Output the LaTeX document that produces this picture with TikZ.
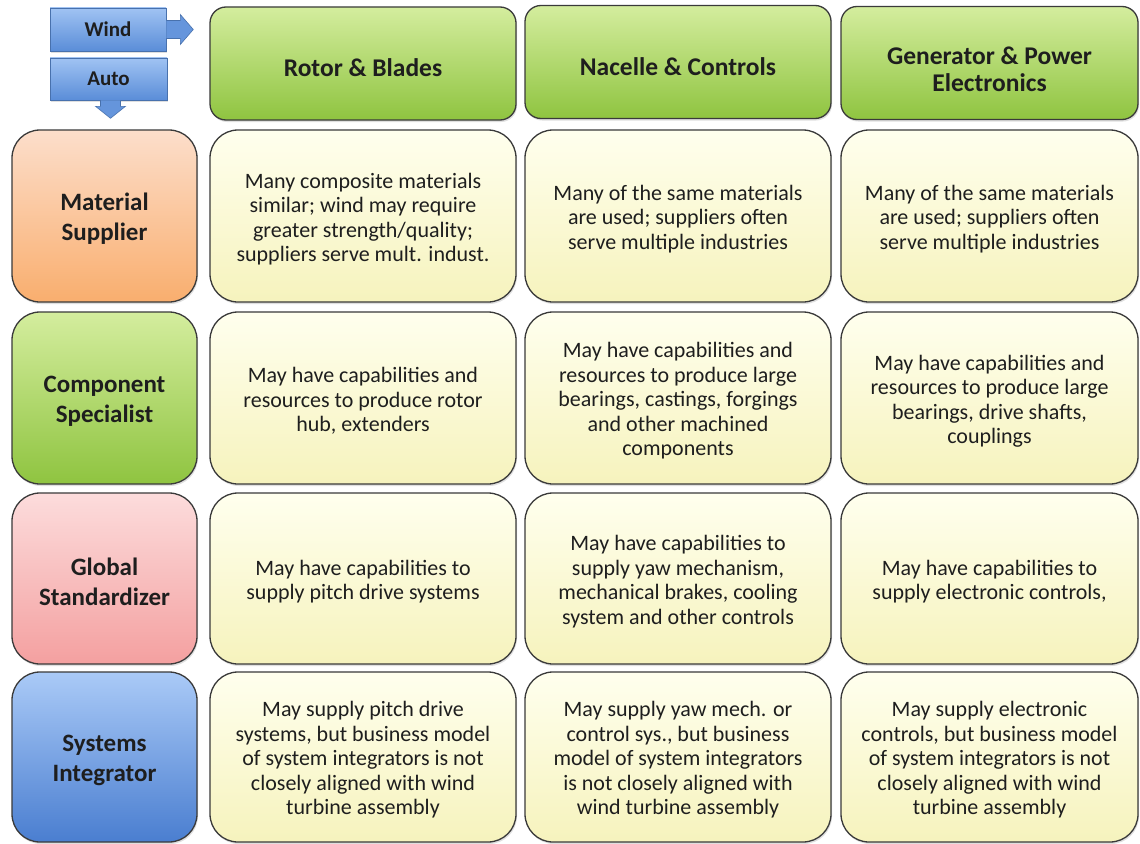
\documentclass[tikz,border=0pt]{standalone}
\usepackage{fontspec}
\setmainfont{Carlito}
\usetikzlibrary{shadows}
\definecolor{yelT}{HTML}{FFFFEE}
\definecolor{yelB}{HTML}{F6F3BD}
\definecolor{grnT}{HTML}{D4ED9E}
\definecolor{grnB}{HTML}{8FC440}
\definecolor{orgT}{HTML}{FCDECB}
\definecolor{orgB}{HTML}{F9AE6E}
\definecolor{pnkT}{HTML}{FCDCDC}
\definecolor{pnkB}{HTML}{F4A0A0}
\definecolor{bluT}{HTML}{AACAF7}
\definecolor{bluB}{HTML}{4A7ED0}
\definecolor{arrT}{HTML}{A0C3F3}
\definecolor{arrB}{HTML}{5A8DD8}
\definecolor{edge}{HTML}{3A3A3A}
\definecolor{txt}{HTML}{1E1E1E}
\tikzset{
  x=1pt, y=-1pt,
  sh/.style={drop shadow={opacity=0.25, shadow xshift=1pt, shadow yshift=-2pt}},
  box/.style={draw=edge, line width=1.3pt, sh, inner sep=0pt},
  cell/.style={box, rounded corners=28pt, top color=yelT, bottom color=yelB},
  head/.style={box, rounded corners=16pt, top color=grnT, bottom color=grnB, minimum height=113pt},
  role/.style={box, rounded corners=28pt, minimum width=185pt},
  celltext/.style={align=center, text=txt, inner sep=0pt, font=\fontsize{22}{24.5}\selectfont},
  headtext/.style={align=center, text=txt, inner sep=0pt, font=\bfseries\fontsize{25.5}{27}\selectfont},
  roletext/.style={align=center, text=txt, inner sep=0pt, font=\bfseries\fontsize{25}{30}\selectfont},
  tag/.style={draw=arrB!80!black, line width=0.6pt, top color=arrT, bottom color=arrB,
     text=txt, font=\bfseries\fontsize{21}{22}\selectfont, sh},
  arrowfill/.style={fill=arrB!85!arrT, draw=arrB!80!black, line width=0.6pt},
  colA/.style={minimum width=306pt},
  colB/.style={minimum width=306pt},
  colC/.style={minimum width=297pt},
  rowA/.style={minimum height=172pt},
  rowB/.style={minimum height=172pt},
  rowC/.style={minimum height=171pt},
  rowD/.style={minimum height=170pt},
}
% box node + its text, text shifted down a little
\newcommand\mkbox[6]{%
  \node[#2] (#1) at #3 {};
  \node[#4] (#1-t) at ([yshift=-#5]#1.center) {#6};}
\begin{document}
\begin{tikzpicture}
\useasboundingbox[fill=white] (0,0) rectangle (1140,843);

% Wind / Auto tags
\node[tag, minimum width=116pt, minimum height=43pt] (wind) at (108,29.5) {Wind};
\fill[arrowfill] (wind.east) ++(0,-9) -- ++(14,0) -- ++(0,-6) -- ++(13,15) -- ++(-13,15) -- ++(0,-6) -- ++(-14,0);
\node[tag, minimum width=117pt, minimum height=42pt] (auto) at (108.5,79) {Auto};
\fill[arrowfill] (auto.south) ++(-8,0) -- ++(0,6) -- ++(-5,0) -- ++(15,12) -- ++(15,-12) -- ++(-5,0) -- ++(0,-6);

% Headers
\mkbox{h1}{head, colA}{(363,63.5)}{headtext}{4pt}{Rotor \& Blades}
\mkbox{h2}{head, colB}{(678,62)}{headtext}{5pt}{Nacelle \& Controls}
\mkbox{h3}{head, colC}{(989.5,63)}{headtext}{6pt}{Generator \& Power\\Electronics}

% Roles
\mkbox{r1}{role, rowA, top color=orgT, bottom color=orgB}{(104.5,216)}{roletext}{3pt}{Material\\Supplier}
\mkbox{r2}{role, rowB, top color=grnT, bottom color=grnB}{(104.5,398)}{roletext}{3pt}{Component\\Specialist}
\mkbox{r3}{role, rowC, top color=pnkT, bottom color=pnkB}{(104.5,578.5)}{roletext}{3pt}{Global\\Standardizer}
\mkbox{r4}{role, rowD, top color=bluT, bottom color=bluB}{(104.5,757)}{roletext}{3pt}{Systems\\Integrator}

% Row 1
\mkbox{c11}{cell, colA, rowA}{(363,216)}{celltext}{3pt}{Many composite materials\\similar; wind may require\\greater strength/quality;\\suppliers serve mult. indust.}
\mkbox{c12}{cell, colB, rowA}{(678,216)}{celltext}{3pt}{Many of the same materials\\are used; suppliers often\\serve multiple industries}
\mkbox{c13}{cell, colC, rowA}{(989.5,216)}{celltext}{3pt}{Many of the same materials\\are used; suppliers often\\serve multiple industries}

% Row 2
\mkbox{c21}{cell, colA, rowB}{(363,398)}{celltext}{3pt}{May have capabilities and\\resources to produce rotor\\hub, extenders}
\mkbox{c22}{cell, colB, rowB}{(678,398)}{celltext}{3pt}{May have capabilities and\\resources to produce large\\bearings, castings, forgings\\and other machined\\components}
\mkbox{c23}{cell, colC, rowB}{(989.5,398)}{celltext}{3pt}{May have capabilities and\\resources to produce large\\bearings, drive shafts,\\couplings}

% Row 3
\mkbox{c31}{cell, colA, rowC}{(363,578.5)}{celltext}{3pt}{May have capabilities to\\supply pitch drive systems}
\mkbox{c32}{cell, colB, rowC}{(678,578.5)}{celltext}{3pt}{May have capabilities to\\supply yaw mechanism,\\mechanical brakes, cooling\\system and other controls}
\mkbox{c33}{cell, colC, rowC}{(989.5,578.5)}{celltext}{3pt}{May have capabilities to\\supply electronic controls,}

% Row 4
\mkbox{c41}{cell, colA, rowD}{(363,757)}{celltext}{3pt}{May supply pitch drive\\systems, but business model\\of system integrators is not\\closely aligned with wind\\turbine assembly}
\mkbox{c42}{cell, colB, rowD}{(678,757)}{celltext}{3pt}{May supply yaw mech. or\\control sys., but business\\model of system integrators\\is not closely aligned with\\wind turbine assembly}
\mkbox{c43}{cell, colC, rowD}{(989.5,757)}{celltext}{3pt}{May supply electronic\\controls, but business model\\of system integrators is not\\closely aligned with wind\\turbine assembly}
\end{tikzpicture}
\end{document}
